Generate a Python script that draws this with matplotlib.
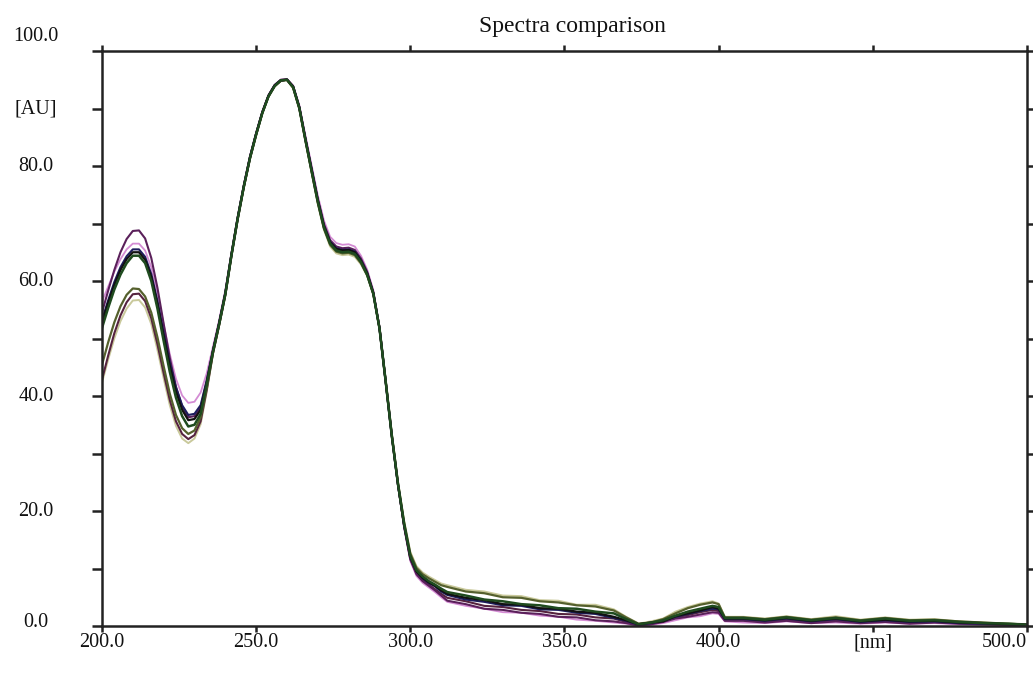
import matplotlib
matplotlib.use("Agg")
import matplotlib.pyplot as plt

# ---------------- data ----------------
wavelength = [200, 202, 204, 206, 208, 210, 212, 214, 216, 218,
              220, 222, 224, 226, 228, 230, 232, 234, 236, 238,
              240, 242, 244, 246, 248, 250, 252, 254, 256, 258,
              260, 262, 264, 266, 268, 270, 272, 274, 276, 278,
              280, 282, 284, 286, 288, 290, 292, 294, 296, 298,
              300, 302, 304, 306, 308, 310,
              312, 318, 324, 330, 336, 342, 348, 354, 360, 366,
              370, 374, 378, 382, 386, 390, 394, 398, 400, 402,
              408, 415, 422, 430, 438, 446, 454, 462, 470, 478,
              486, 494, 500]

s_purple = [54.5, 58.3, 61.9, 65.0, 67.3, 68.7, 68.8, 67.4, 64.0, 58.8, 52.6, 46.6, 41.6, 38.2, 36.3, 36.5, 38.0, 42.6,
            48.0, 52.8, 58.0, 64.7, 71.0, 76.6, 81.6, 85.7, 89.4, 92.3, 94.1, 95.0, 95.1, 93.9, 90.3, 84.8, 79.6, 74.3,
            69.9, 67.1, 66.0, 65.7, 65.8, 65.4, 63.9, 61.6, 58.1, 51.9, 42.6, 33.1, 24.6, 17.3, 11.6, 9.0, 7.8, 7.0, 6.2, 5.3,
            4.4, 3.8, 3.0, 2.8, 2.3, 2.1, 1.6, 1.5, 1.0, 0.8, 0.5, 0.1, 0.3, 0.7, 1.3, 1.6, 2.0, 2.4, 2.3,
            0.9, 0.9, 0.6, 0.9, 0.5, 0.8, 0.5, 0.7, 0.4, 0.6, 0.4, 0.3, 0.2, 0.1]
s_pink = [56.4, 59.0, 61.6, 63.8, 65.5, 66.5, 66.5, 65.3, 62.4, 57.9, 52.5, 47.3, 43.0, 40.1, 38.8, 39.0, 40.6, 44.0,
          48.6, 53.2, 58.4, 65.0, 71.2, 76.8, 81.8, 85.8, 89.5, 92.3, 94.1, 95.0, 95.1, 94.0, 90.6, 85.3, 80.1, 74.9,
          70.5, 67.7, 66.6, 66.3, 66.4, 66.0, 64.4, 62.0, 58.4, 52.1, 42.8, 33.2, 24.5, 17.0, 11.3, 8.7, 7.5, 6.7, 5.9, 5.0,
          4.2, 3.5, 3.0, 2.4, 2.3, 1.8, 1.6, 1.1, 0.9, 0.6, 0.4, 0.0, 0.2, 0.5, 1.0, 1.5, 1.7, 2.2, 2.1,
          0.8, 0.6, 0.5, 0.8, 0.5, 0.6, 0.4, 0.6, 0.4, 0.5, 0.3, 0.2, 0.1, 0.0]
s_navy = [53.2, 56.6, 59.8, 62.4, 64.3, 65.5, 65.5, 64.2, 61.2, 56.5, 51.0, 45.8, 41.5, 38.4, 36.7, 36.9, 38.4, 42.8,
          47.9, 52.7, 57.9, 64.6, 70.9, 76.5, 81.5, 85.6, 89.3, 92.2, 94.0, 94.9, 95.0, 93.8, 90.2, 84.7, 79.4, 74.1,
          69.6, 66.8, 65.7, 65.4, 65.5, 65.1, 63.6, 61.4, 57.9, 51.8, 42.5, 33.0, 24.6, 17.6, 12.0, 9.5, 8.3, 7.5, 6.9, 6.0,
          5.4, 4.6, 4.2, 3.6, 3.5, 2.9, 2.8, 2.3, 2.1, 1.4, 0.9, 0.2, 0.5, 0.9, 1.6, 2.1, 2.6, 3.0, 2.9,
          1.2, 1.2, 0.9, 1.3, 0.8, 1.2, 0.7, 1.0, 0.7, 0.8, 0.5, 0.4, 0.3, 0.2]
s_black = [52.8, 56.2, 59.3, 61.9, 63.8, 65.0, 65.0, 63.7, 60.7, 56.0, 50.5, 45.2, 40.8, 37.6, 35.8, 36.0, 37.6, 42.3,
           47.8, 52.6, 57.8, 64.6, 70.9, 76.5, 81.5, 85.6, 89.3, 92.2, 94.0, 94.9, 95.0, 93.8, 90.2, 84.6, 79.3, 74.0,
           69.5, 66.7, 65.6, 65.3, 65.4, 65.0, 63.5, 61.3, 57.9, 51.8, 42.5, 33.0, 24.6, 17.5, 12.0, 9.5, 8.4, 7.6, 7.0, 6.2,
           5.6, 4.9, 4.5, 3.8, 3.7, 3.1, 3.0, 2.5, 2.3, 1.6, 1.0, 0.3, 0.6, 0.8, 1.7, 2.2, 2.7, 3.3, 3.0,
           1.3, 1.3, 1.0, 1.4, 0.9, 1.3, 0.8, 1.1, 0.8, 0.9, 0.6, 0.5, 0.3, 0.2]
s_green = [51.8, 55.3, 58.5, 61.1, 63.1, 64.4, 64.4, 63.1, 60.0, 55.2, 49.6, 44.2, 39.7, 36.5, 34.7, 35.0, 36.9, 42.0,
           47.7, 52.5, 57.7, 64.5, 70.8, 76.4, 81.4, 85.5, 89.2, 92.1, 93.9, 94.9, 95.0, 93.7, 90.1, 84.5, 79.1, 73.8,
           69.3, 66.5, 65.3, 65.0, 65.1, 64.7, 63.3, 61.1, 57.8, 51.8, 42.6, 33.1, 24.7, 17.7, 12.2, 9.7, 8.6, 7.8, 7.2, 6.5,
           5.9, 5.3, 4.6, 4.3, 3.8, 3.6, 3.1, 3.0, 2.5, 2.2, 1.2, 0.3, 0.6, 1.0, 1.8, 2.5, 3.0, 3.5, 3.3,
           1.4, 1.4, 1.1, 1.5, 1.0, 1.4, 0.9, 1.3, 0.9, 1.0, 0.7, 0.5, 0.4, 0.2]
s_olive = [45.4, 49.3, 52.8, 55.6, 57.6, 58.7, 58.6, 57.3, 54.5, 50.2, 45.2, 40.4, 36.7, 34.4, 33.4, 34.0, 36.3, 41.5,
           47.5, 52.4, 57.6, 64.4, 70.7, 76.3, 81.3, 85.4, 89.2, 92.1, 93.9, 94.8, 95.0, 93.6, 90.0, 84.4, 79.0, 73.6,
           69.1, 66.3, 65.1, 64.8, 64.9, 64.5, 63.1, 61.0, 57.7, 51.8, 42.7, 33.3, 24.9, 18.0, 12.6, 10.1, 9.0, 8.3, 7.7, 7.1,
           6.8, 6.0, 5.7, 5.0, 4.9, 4.3, 4.1, 3.6, 3.4, 2.7, 1.5, 0.4, 0.6, 1.2, 2.2, 3.1, 3.7, 4.1, 3.8,
           1.5, 1.5, 1.2, 1.6, 1.1, 1.5, 1.0, 1.4, 1.0, 1.1, 0.8, 0.6, 0.4, 0.3]
s_plum = [42.8, 47.0, 50.9, 54.0, 56.3, 57.7, 57.8, 56.5, 53.5, 49.0, 44.0, 39.3, 35.6, 33.4, 32.5, 33.2, 35.6, 41.1,
          47.4, 52.3, 57.5, 64.4, 70.7, 76.3, 81.3, 85.4, 89.2, 92.1, 93.9, 94.8, 95.0, 93.7, 90.1, 84.5, 79.1, 73.8,
          69.3, 66.5, 65.3, 65.0, 65.1, 64.7, 63.3, 61.2, 57.8, 51.8, 42.6, 33.1, 24.6, 17.4, 11.7, 9.2, 8.0, 7.2, 6.4, 5.6,
          4.9, 4.3, 3.5, 3.3, 2.8, 2.6, 2.1, 2.0, 1.5, 1.3, 0.7, 0.2, 0.4, 0.8, 1.5, 1.9, 2.4, 2.8, 2.6,
          1.1, 1.1, 0.8, 1.1, 0.7, 1.0, 0.6, 0.9, 0.6, 0.7, 0.5, 0.4, 0.2, 0.1]
s_khaki = [42.3, 46.3, 50.0, 53.0, 55.2, 56.6, 56.7, 55.4, 52.5, 48.0, 43.1, 38.4, 34.8, 32.6, 31.8, 32.6, 35.1, 40.8,
           47.3, 52.2, 57.4, 64.3, 70.6, 76.2, 81.2, 85.3, 89.1, 92.0, 93.8, 94.8, 94.9, 93.5, 89.9, 84.2, 78.8, 73.4,
           68.9, 66.0, 64.8, 64.5, 64.6, 64.2, 62.9, 60.9, 57.7, 51.9, 42.8, 33.5, 25.1, 18.3, 12.9, 10.4, 9.3, 8.6, 8.0, 7.4,
           7.1, 6.3, 6.0, 5.3, 5.2, 4.5, 4.4, 3.7, 3.7, 2.9, 1.6, 0.4, 0.8, 1.3, 2.5, 3.3, 3.9, 4.3, 3.9,
           1.6, 1.6, 1.3, 1.7, 1.2, 1.7, 1.1, 1.5, 1.1, 1.2, 0.8, 0.6, 0.4, 0.3]

x_tick_values = [200, 250, 300, 350, 400, 450, 500]
x_tick_labels = ["200.0", "250.0", "300.0", "350.0", "400.0", "[nm]", "500.0"]
y_tick_values = [0, 20, 40, 60, 80, 90, 100]
y_tick_labels = ["0.0", "20.0", "40.0", "60.0", "80.0", "[AU]", "100.0"]

# ---------------- plot ----------------
plt.rcParams['font.family'] = ['Liberation Serif', 'DejaVu Serif']
fig = plt.figure(figsize=(10.33, 6.8), dpi=100)
ax = fig.add_axes([0.0987, 0.0794, 0.8955, 0.8456])

series = [
    (s_khaki, "#c9c99b", 1.4),
    (s_pink, "#d48cd4", 1.3),
    (s_plum, "#55233f", 1.5),
    (s_olive, "#55602d", 1.6),
    (s_purple, "#5a205a", 1.5),
    (s_navy, "#1d1d5e", 1.5),
    (s_black, "#111111", 1.6),
    (s_green, "#1f4b1f", 1.8),
]
for vals, col, lw in series:
    ax.plot(wavelength, vals, color=col, lw=lw, solid_joinstyle='round')

ax.set_xlim(200, 500)
ax.set_ylim(0, 100)

spine_col = "#222222"
for s in ax.spines.values():
    s.set_linewidth(1.8)
    s.set_color(spine_col)

ax.set_xticks(x_tick_values)
ax.set_yticks(list(range(0, 101, 10)))
ax.tick_params(axis='both', which='both', direction='out', color=spine_col, width=1.8,
               labelleft=False, labelbottom=False)
ax.tick_params(axis='y', length=7, right=True)
ax.tick_params(axis='x', length=4.5, top=True)

ytr = ax.get_yaxis_transform()
y_label_pos = {"100.0": 102.6, "0.0": 0.6}
for v, lab in zip(y_tick_values, y_tick_labels):
    yy = y_label_pos.get(lab, v)
    ax.text(-0.0714, yy, lab, transform=ytr, ha='center', va='center', fontsize=14.5, color="#111111")

xtr = ax.get_xaxis_transform()
for v, lab in zip(x_tick_values, x_tick_labels):
    ha = 'right' if lab == "500.0" else 'center'
    ax.text(v, -0.029, lab, transform=xtr, ha=ha, va='center', fontsize=14.5, color="#111111")

ax.text(0.509, 1.042, "Spectra comparison", transform=ax.transAxes, ha='center', va='center',
        fontsize=17, color="#111111")

fig.savefig("out.png", dpi=100, facecolor="white")
